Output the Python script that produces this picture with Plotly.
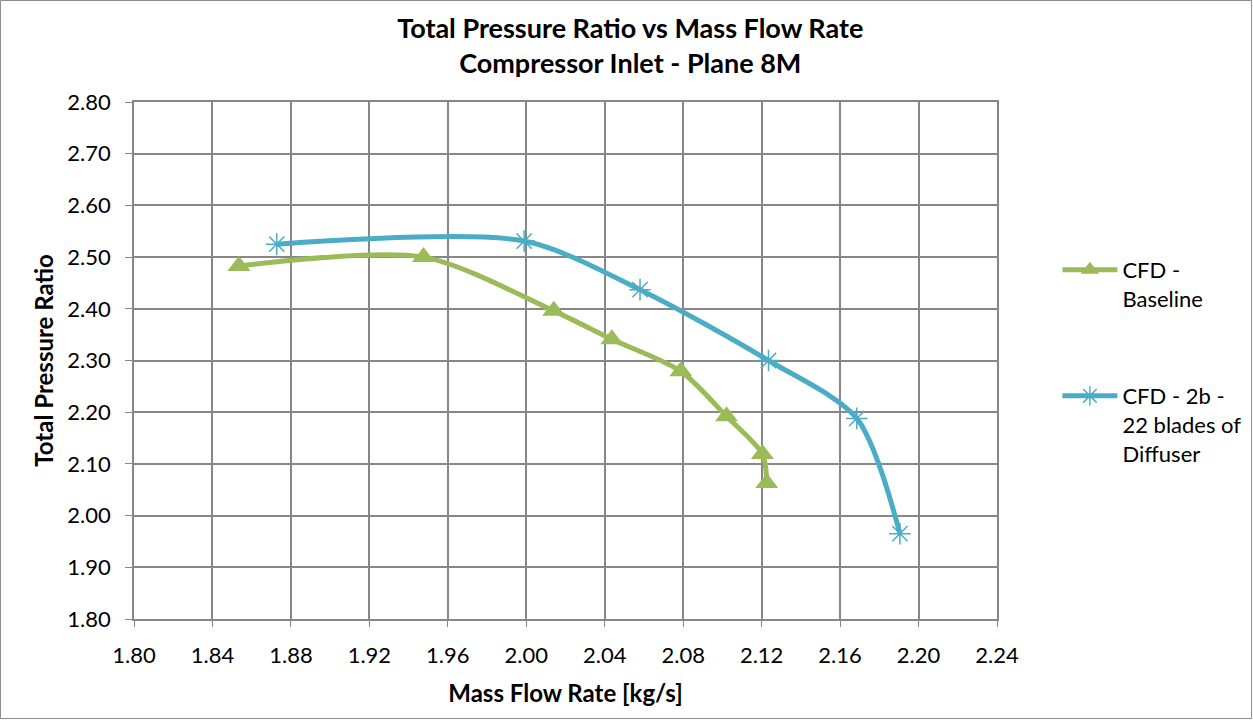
import plotly.graph_objects as go

# Data
baseline_flow = [1.8535, 1.9476, 2.0140, 2.0436, 2.0788, 2.1021, 2.1204, 2.1226]
baseline_ratio = [2.483, 2.500, 2.396, 2.341, 2.279, 2.192, 2.119, 2.063]

diffuser_flow = [1.8728, 1.9989, 2.0580, 2.1235, 2.1685, 2.1905]
diffuser_ratio = [2.525, 2.531, 2.437, 2.300, 2.188, 1.965]

x_ticks = [1.80, 1.84, 1.88, 1.92, 1.96, 2.00, 2.04, 2.08, 2.12, 2.16, 2.20, 2.24]
y_ticks = [1.80, 1.90, 2.00, 2.10, 2.20, 2.30, 2.40, 2.50, 2.60, 2.70, 2.80]

FONT = "Lato, Calibri, 'Open Sans', sans-serif"
GRID = "#878787"

fig = go.Figure()

# Baseline curve
fig.add_trace(go.Scatter(
    x=baseline_flow,
    y=baseline_ratio,
    name="CFD -<br>Baseline",
    mode="lines+markers",
    line=dict(color="#9BBB59", width=5, shape="spline", smoothing=0.8),
    marker=dict(symbol="triangle-up", size=20, color="#9BBB59"),
    legendgroup="a"
))

# 22 blade diffuser curve
fig.add_trace(go.Scatter(
    x=diffuser_flow,
    y=diffuser_ratio,
    name="CFD - 2b -<br>22 blades of<br>Diffuser",
    mode="lines+markers",
    line=dict(color="#4BACC6", width=5, shape="spline", smoothing=0.8),
    marker=dict(symbol="asterisk-open", size=18,
                line=dict(color="#4BACC6", width=1.5)),
    legendgroup="b"
))

# Outer chart frame
fig.add_shape(
    type="rect", xref="paper", yref="paper",
    x0=-0.1547, x1=1.2950, y0=-0.1925, y1=1.1963,
    line=dict(color="#8c8c8c", width=1), layer="below"
)

fig.update_layout(
    title=dict(
        text="<b>Total Pressure Ratio vs Mass Flow Rate<br>Compressor Inlet - Plane 8M</b>",
        x=0.503, xref="container", xanchor="center",
        y=0.947, yref="container", yanchor="top",
        font=dict(family=FONT, size=27, color="black")
    ),
    xaxis=dict(
        title=dict(text="<b>Mass Flow Rate [kg/s]</b>",
                   font=dict(family=FONT, size=24, color="black"), standoff=18),
        range=[1.80, 2.24],
        tickvals=x_ticks,
        ticktext=[f"{v:.2f}" for v in x_ticks],
        showgrid=True, gridcolor=GRID, gridwidth=1.5,
        showline=True, linecolor=GRID, linewidth=1.5, mirror=True,
        ticks="outside", ticklen=6, tickcolor=GRID,
        ticklabelstandoff=10,
        tickfont=dict(family=FONT, size=22, color="black"),
        zeroline=False
    ),
    yaxis=dict(
        title=dict(text="<b>Total Pressure Ratio</b>",
                   font=dict(family=FONT, size=24, color="black"), standoff=7),
        range=[1.80, 2.80],
        tickvals=y_ticks,
        ticktext=[f"{v:.2f}" for v in y_ticks],
        showgrid=True, gridcolor=GRID, gridwidth=1.5,
        showline=True, linecolor=GRID, linewidth=1.5, mirror=True,
        ticks="outside", ticklen=7, tickcolor=GRID,
        ticklabelstandoff=10,
        tickfont=dict(family=FONT, size=22, color="black"),
        zeroline=False
    ),
    legend=dict(
        x=1.07, xanchor="left",
        y=0.716, yanchor="top",
        valign="top",
        tracegroupgap=66,
        font=dict(family=FONT, size=22, color="black"),
        itemwidth=55,
        bgcolor="rgba(0,0,0,0)"
    ),
    plot_bgcolor="white",
    paper_bgcolor="white",
    width=1253, height=720,
    margin=dict(l=134, r=256, t=102, b=101, autoexpand=False)
)

# page body has a default 8px margin; drop it (and scrollbars) so the figure sits at the window corner
fig.write_html("out.html", config={"displayModeBar": False},
               post_script="document.body.style.margin='0';document.body.style.overflow='hidden';")
